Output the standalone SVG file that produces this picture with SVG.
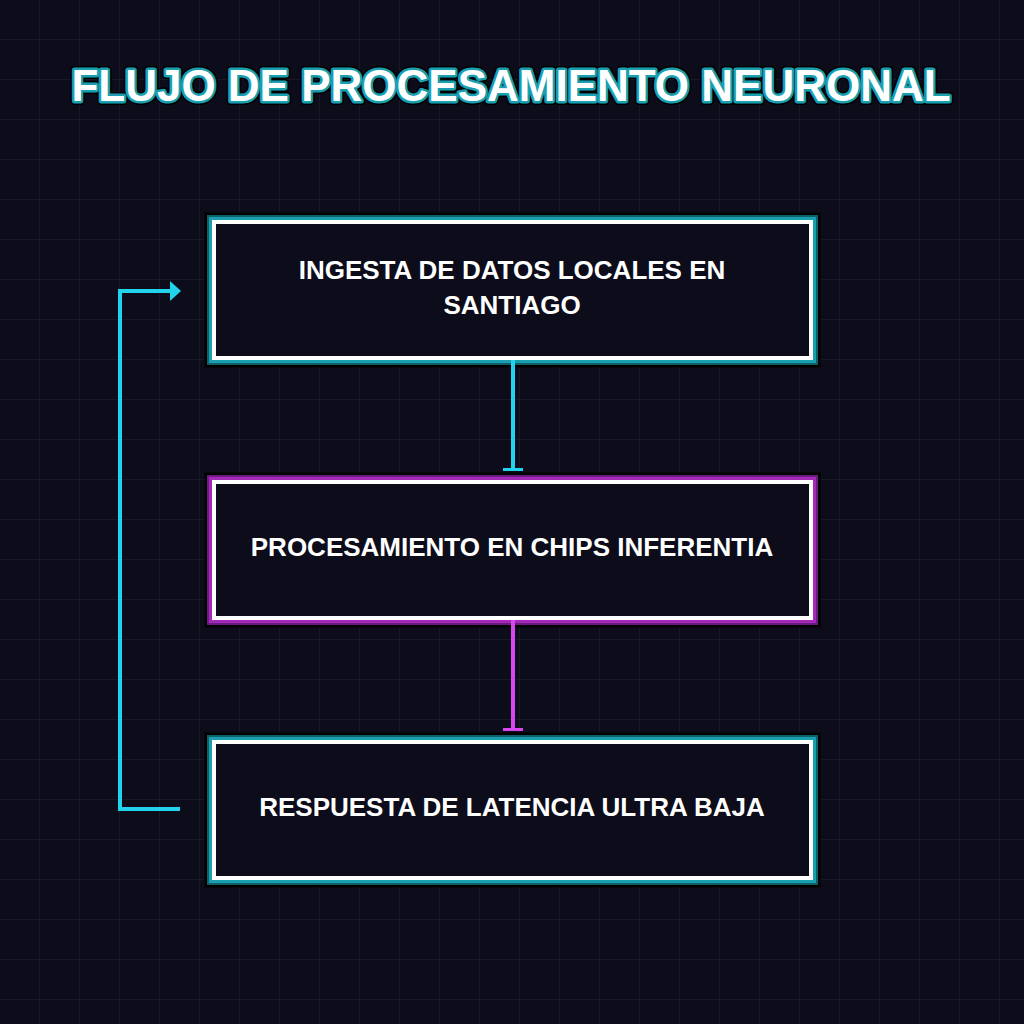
<svg xmlns="http://www.w3.org/2000/svg" width="1024" height="1024" viewBox="0 0 1024 1024">
<defs>
<pattern id="grid" width="40" height="40" patternUnits="userSpaceOnUse">
<path d="M40 0V40M0 40H40" fill="none" stroke="#1b1b2e" stroke-width="1.5"/>
</pattern>
<marker id="arrC" markerWidth="11" markerHeight="20" refX="1" refY="10" orient="auto" markerUnits="userSpaceOnUse">
<path d="M0 0L11 10L0 20Z" fill="#22d3ee"/>
</marker>
<marker id="barC" markerWidth="4" markerHeight="22" refX="2" refY="11" orient="auto" markerUnits="userSpaceOnUse">
<rect x="0" y="1" width="3" height="20" fill="#22d3ee"/>
</marker>
<marker id="barM" markerWidth="4" markerHeight="22" refX="2" refY="11" orient="auto" markerUnits="userSpaceOnUse">
<rect x="0" y="1" width="3" height="20" fill="#d946ef"/>
</marker>
</defs>
<style>
.t{font-family:"Liberation Sans",Arial,sans-serif;font-weight:bold;}
.lbl{font-size:26px;fill:#ffffff;text-anchor:middle;}
.g0{fill:none;stroke:#000000;stroke-width:19;}
.gc1{fill:none;stroke:#0f5f68;stroke-width:14;}
.gc2{fill:none;stroke:#1a9fb0;stroke-width:10;}
.gm1{fill:none;stroke:#6b1a80;stroke-width:14;}
.gm2{fill:none;stroke:#a529b8;stroke-width:10;}
.box{fill:#0c0c1a;stroke:#ffffff;stroke-width:4;}
.cc{fill:none;stroke:#22d3ee;stroke-width:4;}
.cm{fill:none;stroke:#d946ef;stroke-width:4;}
</style>
<rect width="1024" height="1024" fill="#0c0c1a"/>
<rect width="1024" height="1024" fill="url(#grid)"/>

<g id="title">
<text class="t" x="511" y="101" font-size="44" text-anchor="middle" fill="none" stroke="#000" stroke-width="8" stroke-linejoin="round">FLUJO DE PROCESAMIENTO NEURONAL</text>
<text class="t" x="511" y="101" font-size="44" text-anchor="middle" fill="none" stroke="#1a9fb0" stroke-width="5" stroke-linejoin="round">FLUJO DE PROCESAMIENTO NEURONAL</text>
<text class="t" x="511" y="101" font-size="44" text-anchor="middle" fill="#ffffff">FLUJO DE PROCESAMIENTO NEURONAL</text>
</g>

<g id="node1">
<rect class="g0" x="214" y="222" width="597" height="136"/>
<rect class="gc1" x="214" y="222" width="597" height="136"/>
<rect class="gc2" x="214" y="222" width="597" height="136"/>
<rect class="box" x="214" y="222" width="597" height="136"/>
<text class="t lbl" x="512" y="279">INGESTA DE DATOS LOCALES EN</text>
<text class="t lbl" x="512" y="314">SANTIAGO</text>
</g>

<g id="node2">
<rect class="g0" x="214" y="482" width="597" height="136"/>
<rect class="gm1" x="214" y="482" width="597" height="136"/>
<rect class="gm2" x="214" y="482" width="597" height="136"/>
<rect class="box" x="214" y="482" width="597" height="136"/>
<text class="t lbl" x="512" y="556">PROCESAMIENTO EN CHIPS INFERENTIA</text>
</g>

<g id="node3">
<rect class="g0" x="214" y="742" width="597" height="136"/>
<rect class="gc1" x="214" y="742" width="597" height="136"/>
<rect class="gc2" x="214" y="742" width="597" height="136"/>
<rect class="box" x="214" y="742" width="597" height="136"/>
<text class="t lbl" x="512" y="816">RESPUESTA DE LATENCIA ULTRA BAJA</text>
</g>

<g id="connectors">
<line class="cc" x1="513" y1="360" x2="513" y2="470" marker-end="url(#barC)"/>
<line class="cm" x1="513" y1="620" x2="513" y2="730" marker-end="url(#barM)"/>
<polyline class="cc" points="180,809 120,809 120,291 171,291" marker-end="url(#arrC)"/>
</g>
</svg>
